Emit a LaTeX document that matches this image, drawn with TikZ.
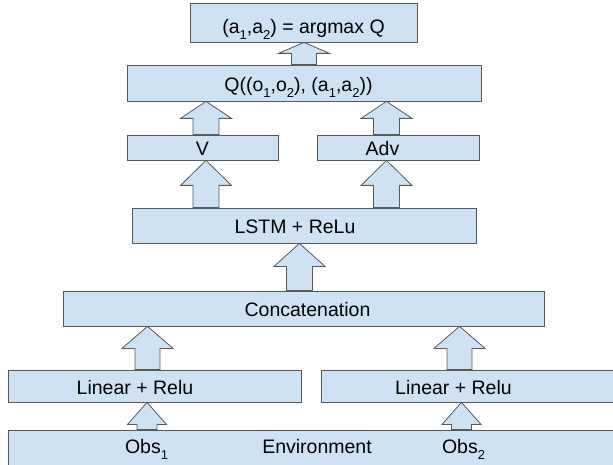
\documentclass[tikz,border=0pt]{standalone}
\usepackage{fontspec}
\setmainfont{Liberation Sans}
\usetikzlibrary{calc}
\definecolor{boxfill}{HTML}{CFE2F3}
\definecolor{boxline}{HTML}{595959}
\newcommand{\sbs}[1]{\raisebox{-6pt}{\fontsize{13}{13}\selectfont #1}}
\newcommand{\offc}[2]{\hspace*{#1}\hspace*{#1}#2}
% fat up-arrow: from, to, x, head length, head half width, shaft half width
\newcommand{\fatup}[6]{%
  \draw[fat] let \p1=(#1.north), \p2=(#2.south) in
    (#3pt-#6pt,\y1) -- (#3pt-#6pt,\y2-#4pt) -- (#3pt-#5pt,\y2-#4pt)
    -- (#3pt,\y2) -- (#3pt+#5pt,\y2-#4pt) -- (#3pt+#6pt,\y2-#4pt)
    -- (#3pt+#6pt,\y1) -- cycle;
}
\begin{document}
\begin{tikzpicture}[
      x=1pt, y=-1pt,
      every node/.style={inner sep=0pt,font=\fontsize{19.5}{23}\selectfont},
      box/.style={draw=boxline, fill=boxfill, line width=0.8pt,
        text height=14pt, text depth=0pt},
      fat/.style={draw=boxline, fill=boxfill, line width=0.8pt, line join=miter}
    ]
      \useasboundingbox (0,0) rectangle (613,465);
      % boxes, top to bottom
      \node[box, minimum width=227pt, minimum height=39pt, text height=23pt]
        (goal) at (303.5,22.5) {(a\sbs1,a\sbs2) = argmax Q};
      \node[box, minimum width=354pt, minimum height=36pt, text height=18pt]
        (qval) at (304,83) {\offc{-5.5pt}{Q((o\sbs1,o\sbs2), (a\sbs1,a\sbs2))}};
      \node[box, minimum width=151pt, minimum height=25pt, text height=17pt]
        (vbox) at (202.5,147.5) {V};
      \node[box, minimum width=162pt, minimum height=25pt, text height=17pt]
        (adv) at (398,147.5) {\offc{-15.5pt}{Adv}};
      \node[box, minimum width=344pt, minimum height=35pt, text height=16pt]
        (lstm) at (304,225.5) {\offc{-9pt}{LSTM + ReLu}};
      \node[box, minimum width=481pt, minimum height=35pt, text height=15pt]
        (concat) at (303.5,308.5) {\offc{4pt}{Concatenation}};
      \node[box, minimum width=293pt, minimum height=32pt, text height=16pt]
        (lin1) at (154.5,386) {\offc{-19.5pt}{Linear + Relu}};
      \node[box, minimum width=304pt, minimum height=32pt, text height=16pt]
        (lin2) at (473,386) {\offc{-19.5pt}{Linear + Relu}};
      \node[box, minimum width=632pt, minimum height=40pt, text height=7pt]
        (env) at (324,450) {\offc{-7pt}{Environment}};
      \node[anchor=base] (obs1) at (146.5,453.5) {Obs\sbs1};
      \node[anchor=base] (obs2) at (463.5,453.5) {Obs\sbs2};
      % arrows
      \fatup{qval}{goal}{304}{11}{25.5}{12.5}
      \fatup{vbox}{qval}{206}{17}{25.5}{13}
      \fatup{adv}{qval}{386.5}{17}{25.5}{13}
      \fatup{lstm}{vbox}{206}{25}{25.5}{13}
      \fatup{lstm}{adv}{386.5}{25}{25.5}{13}
      \fatup{concat}{lstm}{299.5}{23}{25.5}{13}
      \fatup{lin1}{concat}{147.5}{22}{25.5}{12.5}
      \fatup{lin2}{concat}{459.5}{22}{25.5}{12.5}
      \fatup{env}{lin1}{147}{22}{19.5}{10}
      \fatup{env}{lin2}{461.5}{22}{19.5}{10}
    \end{tikzpicture}
\end{document}
